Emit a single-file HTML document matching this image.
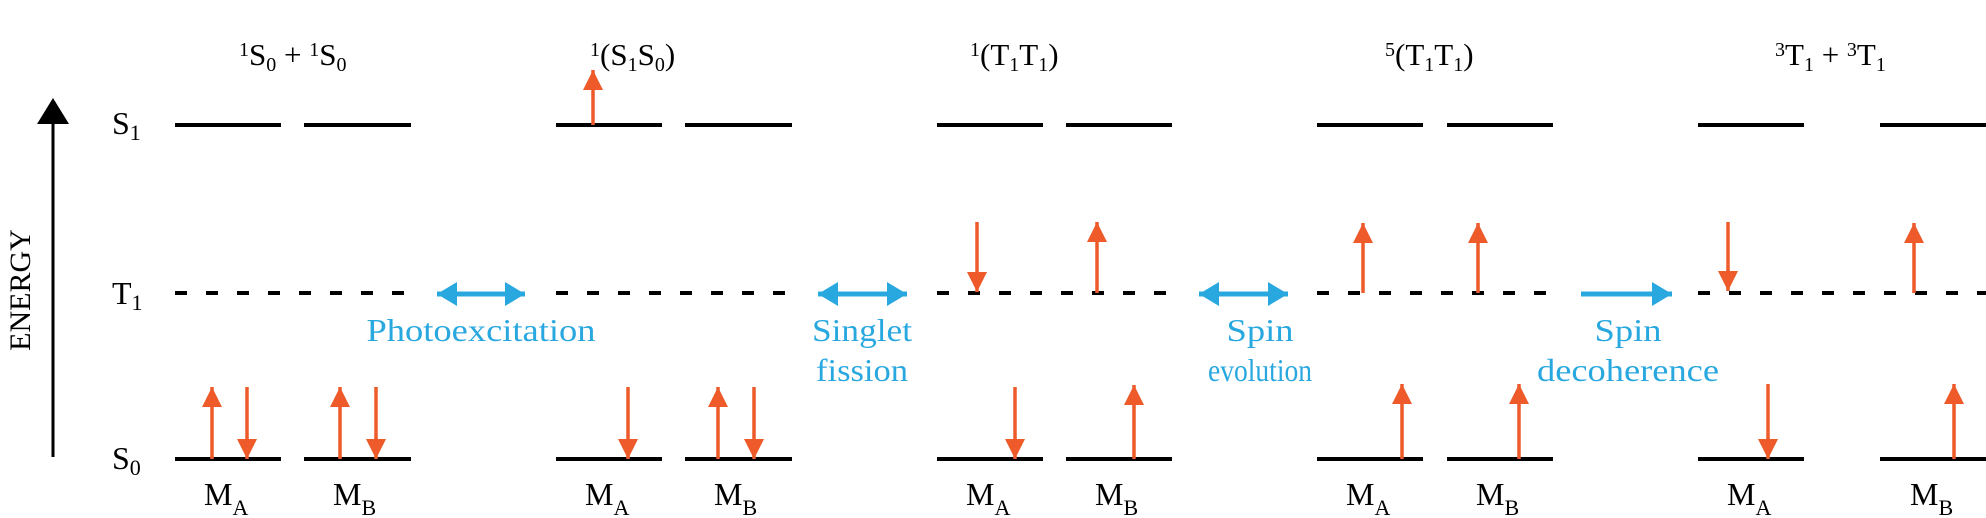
<!DOCTYPE html>
<html><head><meta charset="utf-8"><style>
html,body{margin:0;padding:0;background:#fff;}
svg{display:block;}
text{font-family:"Liberation Serif",serif;}
</style></head><body>
<svg width="1986" height="518" viewBox="0 0 1986 518" xmlns="http://www.w3.org/2000/svg">
<defs>
<marker id="oh" markerUnits="userSpaceOnUse" markerWidth="22" markerHeight="20" refX="20" refY="10" orient="auto"><path d="M0,0 L20,10 L0,20 Z" fill="#EE5A2A"/></marker>
<marker id="bh" markerUnits="userSpaceOnUse" markerWidth="22" markerHeight="24" refX="20" refY="12" orient="auto"><path d="M0,0 L20,12 L0,24 Z" fill="#29A8E0"/></marker>
<marker id="bt" markerUnits="userSpaceOnUse" markerWidth="22" markerHeight="24" refX="2" refY="12" orient="auto"><path d="M22,0 L2,12 L22,24 Z" fill="#29A8E0"/></marker>
</defs>
<line x1="53" y1="457" x2="53" y2="120" stroke="#000" stroke-width="3"/>
<path d="M37,124 L53,98 L69,124 Z" fill="#000"/>
<text transform="translate(30,290) rotate(-90)" font-size="30" text-anchor="middle">ENERGY</text>
<g font-size="32">
<text x="112" y="134">S<tspan font-size="22" dy="6">1</tspan></text>
<text x="112" y="304">T<tspan font-size="22" dy="6">1</tspan></text>
<text x="112" y="469">S<tspan font-size="22" dy="6">0</tspan></text>
</g>
<g stroke="#000" stroke-width="4">
<line x1="175" y1="125" x2="281" y2="125"/><line x1="304" y1="125" x2="411" y2="125"/>
<line x1="556" y1="125" x2="662" y2="125"/><line x1="685" y1="125" x2="792" y2="125"/>
<line x1="937" y1="125" x2="1043" y2="125"/><line x1="1066" y1="125" x2="1172" y2="125"/>
<line x1="1317" y1="125" x2="1423" y2="125"/><line x1="1447" y1="125" x2="1553" y2="125"/>
<line x1="1698" y1="125" x2="1804" y2="125"/><line x1="1880" y1="125" x2="1986" y2="125"/>
<line x1="175" y1="459" x2="281" y2="459"/><line x1="304" y1="459" x2="411" y2="459"/>
<line x1="556" y1="459" x2="662" y2="459"/><line x1="685" y1="459" x2="792" y2="459"/>
<line x1="937" y1="459" x2="1043" y2="459"/><line x1="1066" y1="459" x2="1172" y2="459"/>
<line x1="1317" y1="459" x2="1423" y2="459"/><line x1="1447" y1="459" x2="1553" y2="459"/>
<line x1="1698" y1="459" x2="1804" y2="459"/><line x1="1880" y1="459" x2="1986" y2="459"/>
</g>
<g stroke="#000" stroke-width="4" stroke-dasharray="12 19">
<line x1="175" y1="293" x2="411" y2="293"/>
<line x1="556" y1="293" x2="792" y2="293"/>
<line x1="937" y1="293" x2="1172" y2="293"/>
<line x1="1317" y1="293" x2="1553" y2="293"/>
<line x1="1698" y1="293" x2="1986" y2="293"/>
</g>
<g stroke="#EE5A2A" stroke-width="3.5" marker-end="url(#oh)">
<line x1="212" y1="459" x2="212" y2="387"/><line x1="247" y1="387" x2="247" y2="459"/>
<line x1="340" y1="459" x2="340" y2="387"/><line x1="376" y1="387" x2="376" y2="459"/>
<line x1="593" y1="125" x2="593" y2="70"/>
<line x1="628" y1="387" x2="628" y2="459"/>
<line x1="718" y1="459" x2="718" y2="387"/><line x1="754" y1="387" x2="754" y2="459"/>
<line x1="977" y1="222" x2="977" y2="292"/><line x1="1097" y1="293" x2="1097" y2="222"/>
<line x1="1015" y1="387" x2="1015" y2="459"/><line x1="1134" y1="459" x2="1134" y2="385"/>
<line x1="1363" y1="293" x2="1363" y2="223"/><line x1="1478" y1="293" x2="1478" y2="223"/>
<line x1="1402" y1="459" x2="1402" y2="384"/><line x1="1519" y1="459" x2="1519" y2="384"/>
<line x1="1728" y1="222" x2="1728" y2="291"/><line x1="1914" y1="293" x2="1914" y2="223"/>
<line x1="1768" y1="384" x2="1768" y2="459"/><line x1="1954" y1="459" x2="1954" y2="384"/>
</g>
<g stroke="#29A8E0" stroke-width="5">
<line x1="437" y1="294" x2="525" y2="294" marker-start="url(#bt)" marker-end="url(#bh)"/>
<line x1="818" y1="294" x2="907" y2="294" marker-start="url(#bt)" marker-end="url(#bh)"/>
<line x1="1199" y1="294" x2="1288" y2="294" marker-start="url(#bt)" marker-end="url(#bh)"/>
<line x1="1581" y1="294" x2="1672" y2="294" marker-end="url(#bh)"/>
</g>
<g fill="#29A8E0" font-size="32" text-anchor="middle">
<text x="481" y="341" textLength="229" lengthAdjust="spacingAndGlyphs">Photoexcitation</text>
<text x="862" y="341" textLength="100" lengthAdjust="spacingAndGlyphs">Singlet</text>
<text x="862" y="381" textLength="92" lengthAdjust="spacingAndGlyphs">fission</text>
<text x="1260" y="341" textLength="67" lengthAdjust="spacingAndGlyphs">Spin</text>
<text x="1260" y="381" textLength="104" lengthAdjust="spacingAndGlyphs">evolution</text>
<text x="1628" y="341" textLength="67" lengthAdjust="spacingAndGlyphs">Spin</text>
<text x="1628" y="381" textLength="182" lengthAdjust="spacingAndGlyphs">decoherence</text>
</g>
<g font-size="31">
<text x="239" y="65"><tspan font-size="20" dy="-9">1</tspan><tspan dy="9">S</tspan><tspan font-size="20" dy="6">0</tspan><tspan dy="-6"> + </tspan><tspan font-size="20" dy="-9">1</tspan><tspan dy="9">S</tspan><tspan font-size="20" dy="6">0</tspan></text>
<text x="590" y="65"><tspan font-size="20" dy="-9">1</tspan><tspan dy="9">(S</tspan><tspan font-size="20" dy="6">1</tspan><tspan dy="-6">S</tspan><tspan font-size="20" dy="6">0</tspan><tspan dy="-6">)</tspan></text>
<text x="970" y="65"><tspan font-size="20" dy="-9">1</tspan><tspan dy="9">(T</tspan><tspan font-size="20" dy="6">1</tspan><tspan dy="-6">T</tspan><tspan font-size="20" dy="6">1</tspan><tspan dy="-6">)</tspan></text>
<text x="1385" y="65"><tspan font-size="20" dy="-9">5</tspan><tspan dy="9">(T</tspan><tspan font-size="20" dy="6">1</tspan><tspan dy="-6">T</tspan><tspan font-size="20" dy="6">1</tspan><tspan dy="-6">)</tspan></text>
<text x="1775" y="65"><tspan font-size="20" dy="-9">3</tspan><tspan dy="9">T</tspan><tspan font-size="20" dy="6">1</tspan><tspan dy="-6"> + </tspan><tspan font-size="20" dy="-9">3</tspan><tspan dy="9">T</tspan><tspan font-size="20" dy="6">1</tspan></text>
</g>
<g font-size="32">
<text x="204" y="505">M<tspan font-size="22" dy="10">A</tspan></text>
<text x="333" y="505">M<tspan font-size="22" dy="10">B</tspan></text>
<text x="585" y="505">M<tspan font-size="22" dy="10">A</tspan></text>
<text x="714" y="505">M<tspan font-size="22" dy="10">B</tspan></text>
<text x="966" y="505">M<tspan font-size="22" dy="10">A</tspan></text>
<text x="1095" y="505">M<tspan font-size="22" dy="10">B</tspan></text>
<text x="1346" y="505">M<tspan font-size="22" dy="10">A</tspan></text>
<text x="1476" y="505">M<tspan font-size="22" dy="10">B</tspan></text>
<text x="1727" y="505">M<tspan font-size="22" dy="10">A</tspan></text>
<text x="1910" y="505">M<tspan font-size="22" dy="10">B</tspan></text>
</g>
</svg>
</body></html>
